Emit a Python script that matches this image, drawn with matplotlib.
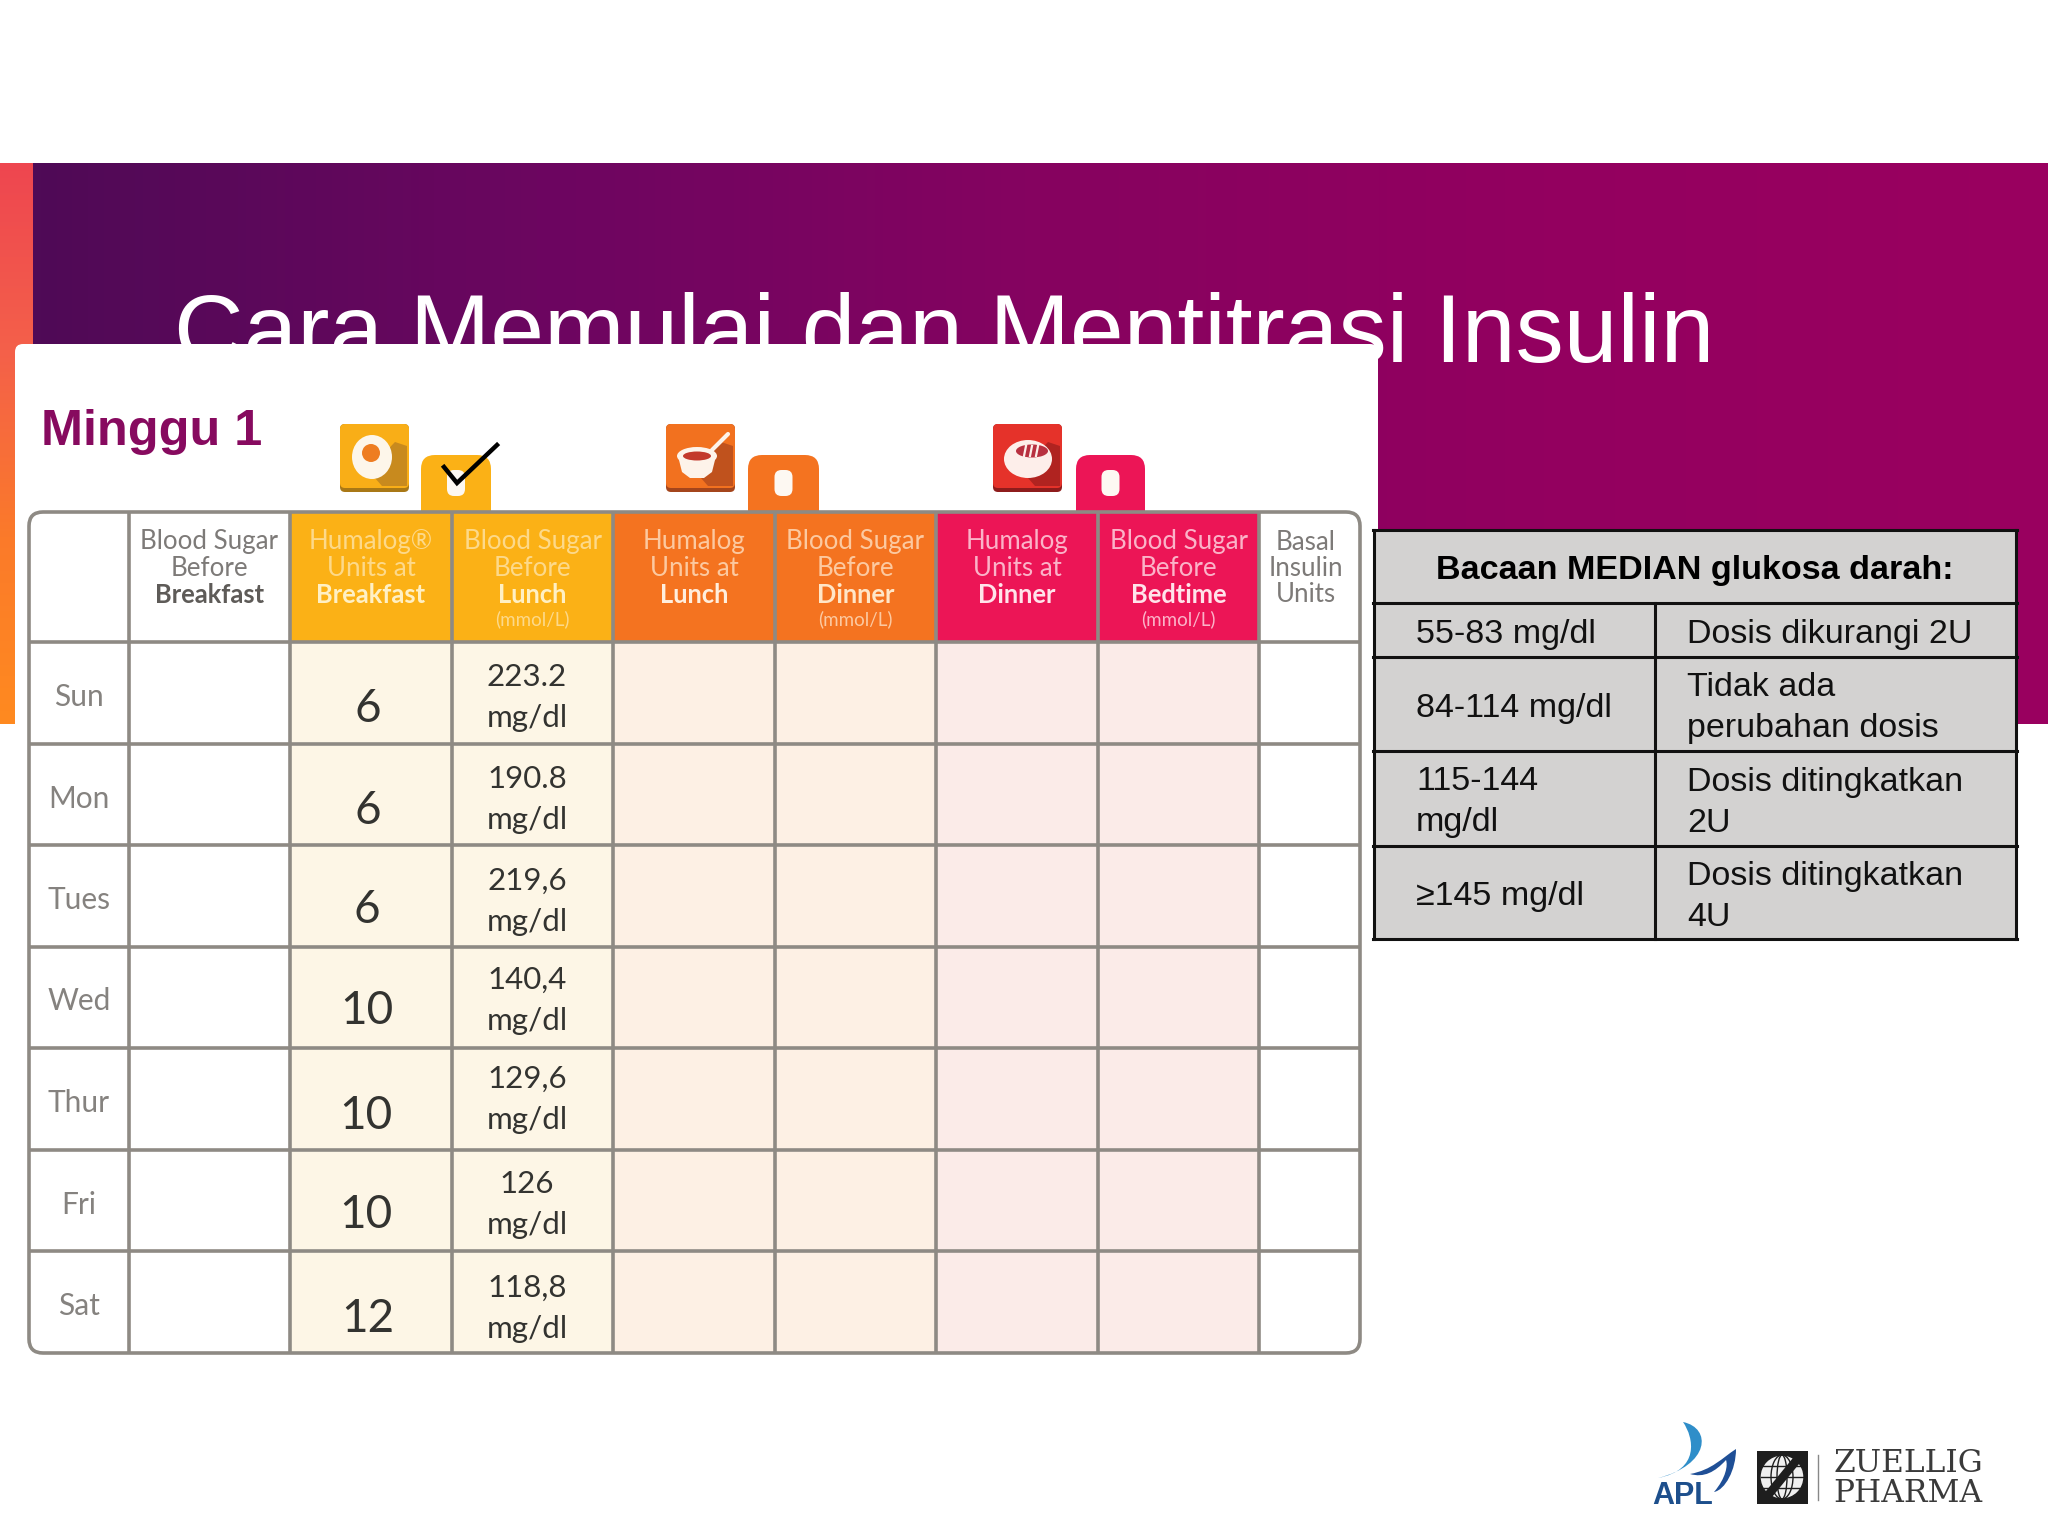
import numpy as np
import matplotlib
matplotlib.use("Agg")
import matplotlib.pyplot as plt
from matplotlib.patches import Rectangle, FancyBboxPatch, Ellipse, Polygon, Circle, PathPatch
from matplotlib.path import Path
from matplotlib.colors import LinearSegmentedColormap

# ---------- content ----------
title = "Cara Memulai dan Mentitrasi Insulin"
week_label = "Minggu 1"
days = ["Sun", "Mon", "Tues", "Wed", "Thur", "Fri", "Sat"]
units_breakfast = ["6", "6", "6", "10", "10", "10", "12"]
glucose_lunch = ["223.2", "190.8", "219,6", "140,4", "129,6", "126", "118,8"]
glucose_unit = "mg/dl"

header_regular = [[], ["Blood Sugar", "Before"], ["Humalog®", "Units at"], ["Blood Sugar", "Before"],
                  ["Humalog", "Units at"], ["Blood Sugar", "Before"], ["Humalog", "Units at"],
                  ["Blood Sugar", "Before"], ["Basal", "Insulin", "Units"]]
header_bold = ["", "Breakfast", "Breakfast", "Lunch", "Lunch", "Dinner", "Dinner", "Bedtime", ""]
header_small = ["", "", "", "(mmol/L)", "", "(mmol/L)", "", "(mmol/L)", ""]

ref_title = "Bacaan MEDIAN glukosa darah:"
ref_ranges = [["55-83 mg/dl"], ["84-114 mg/dl"], ["115-144", "mg/dl"], ["≥145 mg/dl"]]
ref_actions = [["Dosis dikurangi 2U"], ["Tidak ada", "perubahan dosis"],
               ["Dosis ditingkatkan", "2U"], ["Dosis ditingkatkan", "4U"]]

# ---------- layout (pixels) ----------
col_edges = [29, 129, 290, 452, 613, 775, 936, 1098, 1259, 1360]
row_edges = [512, 642, 744, 845, 947, 1048, 1150, 1251, 1353]
unit_xy = [(368, 709), (368, 811), (367, 910), (367, 1011), (366, 1116), (366, 1215), (368, 1319)]
gluc_y = [(677, 718), (779, 820), (881, 922), (980, 1021), (1079, 1120), (1184, 1225), (1288, 1329)]
head_y = [542, 568, 595, 619]
head_x_shift = [0, 0, 0, 0, 0, 0, 0, 0, -4]
head_fill = ["#ffffff", "#ffffff", "#fbb116", "#fbb116", "#f47320", "#f47320", "#ec1556", "#ec1556", "#ffffff"]
head_txt = ["#777777", "#7d7a78", "#fdd98a", "#fdd98a", "#fcc9a0", "#fcc9a0", "#fbb3c8", "#fbb3c8", "#7d7a78"]
head_bold_txt = ["#555555", "#5e5b58", "#fff0c4", "#fff0c4", "#ffeedd", "#ffe6c8", "#ffe3ea", "#ffe3ea", "#555555"]
body_fill = ["#ffffff", "#ffffff", "#fdf6e6", "#fdf6e6", "#fdf0e4", "#fdf0e4", "#fbebe8", "#fbebe8", "#ffffff"]
GRID = "#8e8a84"

ref_x = [1374, 1655, 2016]
ref_y = [530, 603, 657, 751, 846, 939]
ref_fill = "#d3d2d1"

plt.rcParams["font.family"] = ["Liberation Sans", "DejaVu Sans"]
fig = plt.figure(figsize=(20.48, 15.36), dpi=100, facecolor="white")
ax = fig.add_axes([0, 0, 1, 1])
ax.axis("off")

# ---------- banner ----------
banner_cmap = LinearSegmentedColormap.from_list(
    "banner", ["#4f0a56", "#6c0660", "#860360", "#93005f", "#9a0060"])
strip_cmap = LinearSegmentedColormap.from_list("strip", ["#ee4650", "#f4604a", "#fb7a2a", "#ff8a20"])
ax.imshow(np.linspace(0, 1, 512)[None, :], cmap=banner_cmap, extent=(33, 2048, 724, 163),
          aspect="auto", zorder=1)
ax.imshow(np.linspace(0, 1, 256)[:, None], cmap=strip_cmap, extent=(0, 33, 724, 163),
          aspect="auto", zorder=1)
ax.text(174, 362, title, fontsize=69.5, color="white", ha="left", va="baseline", zorder=2)

# ---------- card ----------
ax.add_patch(FancyBboxPatch((15, 344), 1363, 1100, boxstyle="round,pad=0,rounding_size=8",
                            fc="white", ec="none", zorder=3))
ax.text(41, 445, week_label, fontsize=36.3, fontweight="bold", color="#870a5f", ha="left", va="baseline", zorder=6)


def rbox(x0, y0, x1, y1, r, color, z=5):
    ax.add_patch(FancyBboxPatch((x0, y0), x1 - x0, y1 - y0, boxstyle=f"round,pad=0,rounding_size={r}",
                                fc=color, ec="none", zorder=z))


# icons and tabs
def icon(x0, base, shade, edge):
    rbox(x0, 424, x0 + 69, 492, 5, edge)
    rbox(x0, 424, x0 + 69, 488, 5, base)
    ax.add_patch(Polygon([(x0 + 28, 470), (x0 + 55, 442), (x0 + 67, 446), (x0 + 67, 486), (x0 + 42, 486)],
                         fc=shade, ec="none", zorder=5))


icon(340, "#f9ae17", "#c88a1e", "#a97816")
ax.add_patch(Ellipse((372, 457), 40, 44, fc="#fdf6ea", ec="none", zorder=6))
ax.add_patch(Circle((371, 453), 9, fc="#ee7d22", ec="none", zorder=7))

icon(666, "#f2711f", "#c0521d", "#a4451c")
ax.add_patch(Polygon([(678, 456), (716, 456), (712, 472), (704, 478), (690, 478), (682, 472)],
                     fc="#fdf3ea", ec="none", zorder=6))
ax.add_patch(Ellipse((697, 456), 40, 18, fc="#fdf3ea", ec="none", zorder=6))
ax.add_patch(Ellipse((697, 456), 28, 9, fc="#c3392c", ec="none", zorder=7))
ax.plot([712, 728], [450, 434], color="#fdf3ea", lw=3, solid_capstyle="round", zorder=7)

icon(993, "#e5322a", "#b02320", "#8e1c1c")
ax.add_patch(Ellipse((1028, 459), 48, 38, fc="#fdeeea", ec="none", zorder=6))
ax.add_patch(Ellipse((1032, 451), 32, 13, fc="#b83040", ec="none", zorder=7))
for dx in (-6, 0, 6):
    ax.plot([1032 + dx, 1030 + dx], [446, 456], color="#fdeeea", lw=1.6, zorder=8)

for x0, x1, col in [(421, 491, "#fbb116"), (748, 819, "#f47320"), (1076, 1145, "#ec1556")]:
    rbox(x0, 455, x1, 530, 14, col)
    rbox((x0 + x1) / 2 - 9, 470, (x0 + x1) / 2 + 9, 496, 7, "#fdf8f2", z=6)
ax.plot([444, 457, 497], [467, 483, 445], color="black", lw=3.2, solid_joinstyle="miter", zorder=9)

# ---------- left table ----------
n_cols = len(col_edges) - 1
n_rows = len(row_edges) - 1
for c in range(n_cols):
    x0, x1 = col_edges[c], col_edges[c + 1]
    ax.add_patch(Rectangle((x0, row_edges[0]), x1 - x0, row_edges[1] - row_edges[0], fc=head_fill[c], ec="none", zorder=5))
    ax.add_patch(Rectangle((x0, row_edges[1]), x1 - x0, row_edges[-1] - row_edges[1], fc=body_fill[c], ec="none", zorder=5))
    xc = (x0 + x1) / 2 + head_x_shift[c]
    for i, line in enumerate(header_regular[c]):
        ax.text(xc, head_y[i], line, family="Lato", fontsize=18.6, color=head_txt[c], ha="center", va="center", zorder=8)
    if header_bold[c]:
        ax.text(xc, head_y[2], header_bold[c], family="Lato", fontweight="bold", fontsize=18.4,
                color=head_bold_txt[c], ha="center", va="center", zorder=8)
    if header_small[c]:
        ax.text(xc, head_y[3], header_small[c], family="Lato", fontsize=13.5, color=head_txt[c],
                ha="center", va="center", zorder=8)

for x in col_edges[1:-1]:
    ax.plot([x, x], [row_edges[0], row_edges[-1]], color=GRID, lw=2.6, zorder=7, solid_capstyle="butt")
for y in row_edges[1:-1]:
    ax.plot([col_edges[0], col_edges[-1]], [y, y], color=GRID, lw=2.6, zorder=7, solid_capstyle="butt")
ax.add_patch(FancyBboxPatch((col_edges[0], row_edges[0]), col_edges[-1] - col_edges[0], row_edges[-1] - row_edges[0],
                            boxstyle="round,pad=0,rounding_size=14", fc="none", ec=GRID, lw=2.6, zorder=7))

for r, day in enumerate(days):
    yc = (row_edges[r + 1] + row_edges[r + 2]) / 2
    ax.text((col_edges[0] + col_edges[1]) / 2, yc + 4, day, family="Lato", fontsize=21.5, color="#85827f",
            ha="center", va="center", zorder=8)
    ax.text(unit_xy[r][0], unit_xy[r][1], units_breakfast[r], family="Lato", fontsize=33, color="#333330",
            ha="center", va="center", zorder=8)
    ax.text(527, gluc_y[r][0], glucose_lunch[r], family="Lato", fontsize=22.5, color="#333330",
            ha="center", va="center", zorder=8)
    ax.text(527, gluc_y[r][1], glucose_unit, family="Lato", fontsize=22.5, color="#333330",
            ha="center", va="center", zorder=8)

# ---------- right table ----------
ax.add_patch(Rectangle((ref_x[0], ref_y[0]), ref_x[2] - ref_x[0], ref_y[-1] - ref_y[0], fc=ref_fill, ec="none", zorder=5))
for y in ref_y:
    ax.plot([ref_x[0] - 1, ref_x[2] + 1], [y, y], color="#111111", lw=2.2, zorder=7)
for x in (ref_x[0], ref_x[2]):
    ax.plot([x, x], [ref_y[0], ref_y[-1]], color="#111111", lw=2.2, zorder=7)
ax.plot([ref_x[1], ref_x[1]], [ref_y[1], ref_y[-1]], color="#111111", lw=2.2, zorder=7)
ax.text((ref_x[0] + ref_x[2]) / 2, (ref_y[0] + ref_y[1]) / 2 + 4, ref_title, fontsize=24.6, fontweight="bold",
        color="black", ha="center", va="center", zorder=8)
LINE = 41
for r in range(len(ref_ranges)):
    yc = (ref_y[r + 1] + ref_y[r + 2]) / 2 + 4
    for texts, x in ((ref_ranges[r], ref_x[0] + 42), (ref_actions[r], ref_x[1] + 32)):
        y0 = yc - (len(texts) - 1) * LINE / 2
        for i, line in enumerate(texts):
            ax.text(x, y0 + i * LINE, line, fontsize=24.5, color="#111111", ha="left", va="center", zorder=8)

# ---------- logos ----------
verts = [(1683, 1422), (1712, 1428), (1710, 1465), (1658, 1478), (1700, 1470), (1694, 1438), (1683, 1422)]
codes = [Path.MOVETO, Path.CURVE4, Path.CURVE4, Path.CURVE4, Path.CURVE4, Path.CURVE4, Path.CURVE4]
ax.add_patch(PathPatch(Path(verts, codes), fc="#2f8ec9", ec="none", zorder=6))
verts = [(1690, 1474), (1712, 1470), (1722, 1458), (1736, 1449), (1736, 1470), (1725, 1490), (1714, 1492),
         (1726, 1478), (1728, 1465), (1726, 1460), (1715, 1472), (1704, 1478), (1690, 1474)]
codes = [Path.MOVETO] + [Path.CURVE4] * 12
ax.add_patch(PathPatch(Path(verts, codes), fc="#1f4f96", ec="none", zorder=6))
ax.text(1683, 1496, "APL", fontsize=22, fontweight="bold", color="#1d4f8c", ha="center", va="center", zorder=7)

ax.add_patch(Rectangle((1757, 1451), 51, 53, fc="#1e1e1e", ec="none", zorder=6))
ax.add_patch(Circle((1782, 1477), 22, fc="#f0f0f0", ec="#1e1e1e", lw=1, zorder=7))
for w in (10, 22):
    ax.add_patch(Ellipse((1782, 1477), w, 44, fc="none", ec="#1e1e1e", lw=1, zorder=8))
for yy in (1466, 1477, 1488):
    ax.plot([1761, 1803], [yy, yy], color="#1e1e1e", lw=1, zorder=8)
ax.add_patch(Polygon([(1797, 1453), (1808, 1453), (1768, 1502), (1757, 1502)], fc="#1e1e1e", ec="none", zorder=9))
ax.plot([1818, 1818], [1455, 1500], color="#888888", lw=1, zorder=6)
ax.text(1908, 1464, "ZUELLIG", family="DejaVu Serif", fontsize=22.5, color="#3a3a3a", ha="center", va="center", zorder=7)
ax.text(1908, 1493, "PHARMA", family="DejaVu Serif", fontsize=22.5, color="#3a3a3a", ha="center", va="center", zorder=7)

ax.set_xlim(0, 2048)
ax.set_ylim(1536, 0)
fig.savefig("out.png", dpi=100, facecolor="white")
